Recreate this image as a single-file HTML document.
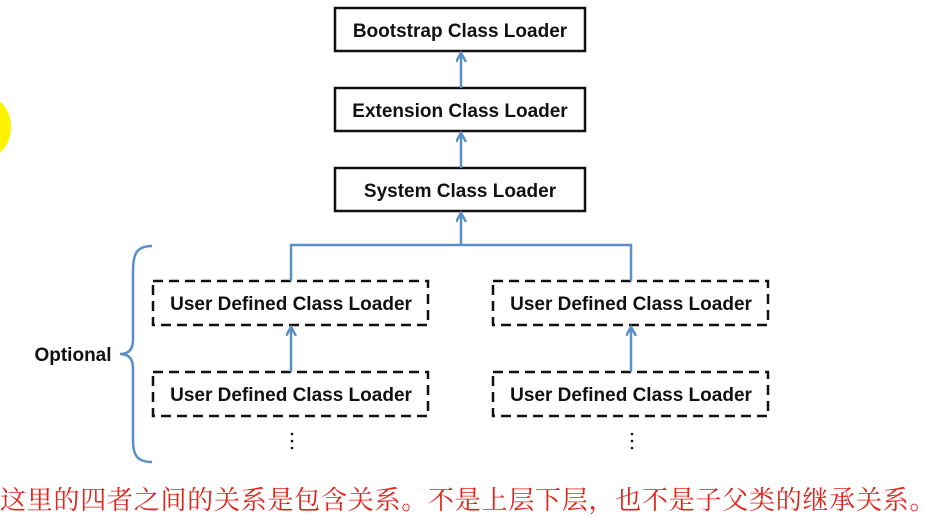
<!DOCTYPE html>
<html><head><meta charset="utf-8"><style>
body{margin:0;width:925px;height:514px;background:#fff;overflow:hidden;position:relative;font-family:"Liberation Sans",sans-serif}
svg{position:absolute;left:0;top:0}
.r{position:absolute;left:0;top:480px;width:925px;color:#e0231c;font-family:"Liberation Serif","Noto Serif CJK SC",serif;font-size:26px;white-space:nowrap;letter-spacing:0.75px}
</style></head><body>
<svg width="925" height="514" viewBox="0 0 925 514">
<defs><marker id="a" markerWidth="12" markerHeight="12" refX="9" refY="5" orient="auto" markerUnits="userSpaceOnUse"><path d="M0,0 L9,5 L0,10" fill="none" stroke="#5b8fc7" stroke-width="2.5"/></marker></defs>
<ellipse cx="-8" cy="127" rx="19" ry="28" fill="#fff200"/>
<g fill="#fff" stroke="#111" stroke-width="2.5">
<rect x="335" y="8" width="250" height="43"/>
<rect x="335" y="88" width="250" height="43"/>
<rect x="335" y="168" width="250" height="43"/>
</g>
<g fill="none" stroke="#111" stroke-width="2.5" stroke-dasharray="10,6">
<rect x="153" y="281" width="275" height="44"/>
<rect x="493" y="281" width="275" height="44"/>
<rect x="153" y="372" width="275" height="44"/>
<rect x="493" y="372" width="275" height="44"/>
</g>
<g stroke="#5b8fc7" stroke-width="2.5" fill="none">
<line x1="461" y1="88" x2="461" y2="53" marker-end="url(#a)"/>
<line x1="461" y1="168" x2="461" y2="133" marker-end="url(#a)"/>
<line x1="461" y1="245" x2="461" y2="213" marker-end="url(#a)"/>
<polyline points="291,281 291,245 631,245 631,281"/>
<line x1="291" y1="372" x2="291" y2="327" marker-end="url(#a)"/>
<line x1="631" y1="372" x2="631" y2="327" marker-end="url(#a)"/>
<path d="M152,246 C135,246 133,256 133,272 L133,340 C133,350 128,354 120,354 C128,354 133,358 133,368 L133,440 C133,455 137,462 152,462"/>
</g>
<g fill="#111"><circle cx="292" cy="434" r="1.3"/><circle cx="292" cy="441" r="1.3"/><circle cx="292" cy="448" r="1.3"/>
<circle cx="632" cy="434" r="1.3"/><circle cx="632" cy="441" r="1.3"/><circle cx="632" cy="448" r="1.3"/></g>
<g font-family="Liberation Sans, sans-serif" font-size="19" font-weight="bold" fill="#111" text-anchor="middle">
<text x="460" y="37">Bootstrap Class Loader</text>
<text x="460" y="117">Extension Class Loader</text>
<text x="460" y="197">System Class Loader</text>
<text x="291" y="310">User Defined Class Loader</text>
<text x="631" y="310">User Defined Class Loader</text>
<text x="291" y="401">User Defined Class Loader</text>
<text x="631" y="401">User Defined Class Loader</text>
<text x="73" y="361">Optional</text>
</g>
</svg>
<div class="r">这里的四者之间的关系是包含关系。不是上层下层，也不是子父类的继承关系。</div>
</body></html>
